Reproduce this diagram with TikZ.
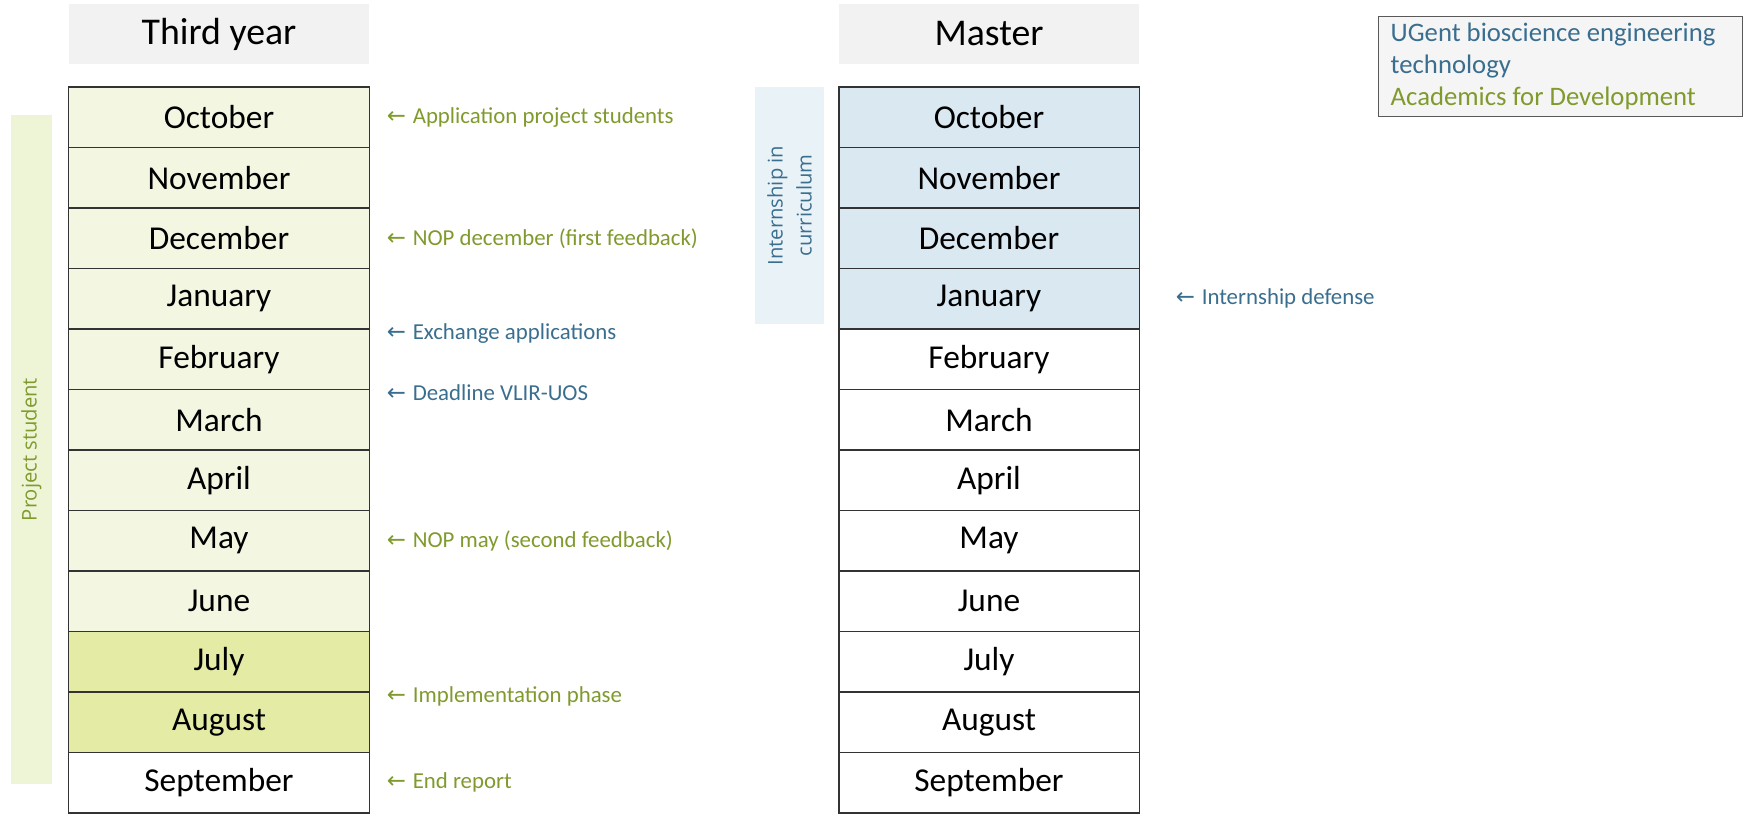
\documentclass[tikz,border=0pt]{standalone}
\usepackage{fontspec}
\setmainfont{Carlito}
\newfontfamily\opensans{Open Sans}
\newfontfamily\arrowfont{DejaVu Sans}
\usepackage{xcolor}
\usetikzlibrary{positioning}
\definecolor{ugentBlue}{RGB}{58, 110, 143}
\definecolor{adGreen}{RGB}{128, 154, 46}
\definecolor{rowGreen}{RGB}{243, 247, 226}
\definecolor{rowGreenDark}{RGB}{227, 235, 165}
\definecolor{rowBlue}{RGB}{218, 232, 241}
\definecolor{barGreen}{RGB}{238, 244, 214}
\definecolor{barBlue}{RGB}{233, 242, 247}
\definecolor{headGray}{RGB}{242, 242, 242}
\newcommand{\noteArrow}{{\arrowfont\char"2190}\hspace{0.3em}}

\begin{document}
\begin{tikzpicture}[
      x=0.02cm, y=-0.02cm,
      month/.style={
        rectangle, draw=black!80, line width=1.1pt,
        minimum width=6.02cm, minimum height=1.21cm, inner sep=0pt,
        font=\fontsize{19}{22}\selectfont
      },
      header/.style={rectangle, fill=headGray, minimum width=6.02cm,
        minimum height=1.2cm, inner sep=0pt, font=\fontsize{21.5}{24}\selectfont},
      note/.style={font=\fontsize{13}{15}\selectfont, inner sep=0pt},
      greennote/.style={note, text=adGreen},
      bluenote/.style={note, text=ugentBlue},
      sidebar/.style={rectangle, rotate=90, inner sep=0pt, align=center,
        font=\opensans\fontsize{11.5}{16.5}\selectfont},
    ]
      \useasboundingbox (0,0) rectangle (1756,814);

      % side bars
      \node[sidebar, fill=barGreen, text=adGreen, minimum width=13.38cm,
        minimum height=0.82cm] (projbar) at (31.5,449.5) {Project student};
      \node[sidebar, fill=barBlue, text=ugentBlue, minimum width=4.74cm,
        minimum height=1.38cm] (internbar) at (789.5,205.5) {Internship in\\curriculum};

      % column headers
      \node[header] (third) at (219,34) {Third year};
      \node[header] (master) at (989,34) {Master};

      % months
      \foreach \m/\c [count=\i] in {October/rowGreen, November/rowGreen,
          December/rowGreen, January/rowGreen, February/rowGreen, March/rowGreen,
          April/rowGreen, May/rowGreen, June/rowGreen, July/rowGreenDark,
          August/rowGreenDark, September/white} {
        \node[month, fill=\c] (l\i) at (219,{87+60.5*(\i-0.5)}) {\m};
      }
      \foreach \m/\c [count=\i] in {October/rowBlue, November/rowBlue,
          December/rowBlue, January/rowBlue, February/white, March/white,
          April/white, May/white, June/white, July/white, August/white,
          September/white} {
        \node[month, fill=\c] (r\i) at (989,{87+60.5*(\i-0.5)}) {\m};
      }

      % milestones
      \node[greennote, right=0.32cm of l1]  (n1)  {\noteArrow Application project students};
      \node[greennote, right=0.32cm of l3]  (n3)  {\noteArrow NOP december (first feedback)};
      \node[bluenote, right=0.32cm of l4.south east, yshift=-0.08cm] (n4) {\noteArrow Exchange applications};
      \node[bluenote, right=0.32cm of l5.south east, yshift=-0.04cm] (n5) {\noteArrow Deadline VLIR-UOS};
      \node[greennote, right=0.32cm of l8]  (n8)  {\noteArrow NOP may (second feedback)};
      \node[greennote, right=0.32cm of l10.south east, yshift=-0.06cm] (n10) {\noteArrow Implementation phase};
      \node[greennote, right=0.32cm of l12] (n12) {\noteArrow End report};
      \node[bluenote, right=0.7cm of r4]    (m4)  {\noteArrow Internship defense};

      % legend
      \node[rectangle, draw=black!65, fill=black!4, line width=0.8pt,
        anchor=north west, text width=6.8cm, inner xsep=0.24cm, inner ysep=0pt,
        minimum height=2cm, align=flush left, font=\fontsize{15.2}{18.2}\selectfont]
        (legend) at (1378,16)
        {\textcolor{ugentBlue}{UGent bioscience engineering}\\
         \textcolor{ugentBlue}{technology}\\
         \textcolor{adGreen}{Academics for Development}};
    \end{tikzpicture}
\end{document}
